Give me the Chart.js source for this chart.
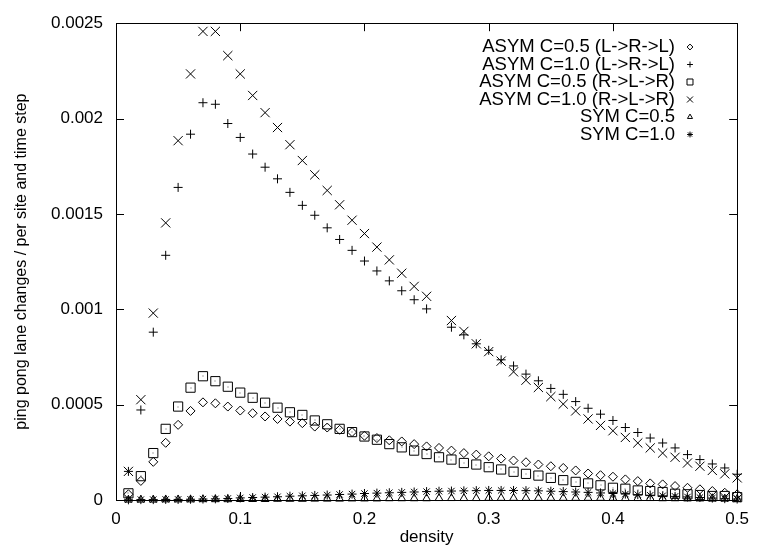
<!DOCTYPE html>
<html>
<head>
<meta charset="utf-8">
<script src="https://cdn.jsdelivr.net/npm/chart.js@4.4.0/dist/chart.umd.min.js"></script>
<style>
  body { margin: 0; background: #fff; }
  #wrap { width: 758px; height: 552px; }
</style>
</head>
<body>
<div id="wrap"><canvas id="grafico" width="758" height="552"></canvas></div>
<script>
// valores (densidade 0.01 .. 0.5)
const density = [0.01, 0.02, 0.03, 0.04, 0.05, 0.06, 0.07, 0.08, 0.09, 0.10,
  0.11, 0.12, 0.13, 0.14, 0.15, 0.16, 0.17, 0.18, 0.19, 0.20,
  0.21, 0.22, 0.23, 0.24, 0.25, 0.26, 0.27, 0.28, 0.29, 0.30,
  0.31, 0.32, 0.33, 0.34, 0.35, 0.36, 0.37, 0.38, 0.39, 0.40,
  0.41, 0.42, 0.43, 0.44, 0.45, 0.46, 0.47, 0.48, 0.49, 0.50];

const asym05LRL = [0.00003, 0.0001, 0.0002, 0.0003, 0.000394, 0.000467, 0.000512, 0.000507, 0.00049, 0.000469,
  0.000455, 0.000438, 0.000425, 0.000411, 0.000403, 0.000385, 0.00038, 0.000368, 0.000356, 0.000337,
  0.000325, 0.000313, 0.000307, 0.000293, 0.000281, 0.000273, 0.000259, 0.000246, 0.000238, 0.000229,
  0.000217, 0.000207, 0.000198, 0.000186, 0.000177, 0.000168, 0.000155, 0.000139, 0.00013, 0.000122,
  0.000108, 0.000099, 0.000087, 0.000082, 0.000073, 0.000064, 0.000056, 0.000047, 0.000038, 0.00003];

const asym10LRL = [0.00015, 0.000472, 0.00088, 0.001283, 0.001639, 0.001918, 0.002083, 0.002075, 0.001974, 0.001901,
  0.001814, 0.001745, 0.001684, 0.001613, 0.001545, 0.001493, 0.001427, 0.001366, 0.001309, 0.001253,
  0.001201, 0.001149, 0.001097, 0.00105, 0.001002, null, 0.000906, 0.000866, 0.000819, 0.000785,
  0.000735, 0.000703, 0.00066, 0.000625, 0.000585, 0.000554, 0.000516, 0.000481, 0.00045, 0.000417,
  0.00038, 0.000354, 0.000325, 0.000299, 0.000273, 0.000238, 0.000212, 0.000189, 0.000168, 0.000135];

const asym05RLR = [0.000035, 0.000125, 0.000246, 0.000373, 0.00049, 0.000589, 0.000649, 0.000623, 0.000594, 0.000563,
  0.000536, 0.00051, 0.000484, 0.00046, 0.000446, 0.000417, 0.000397, 0.000373, 0.000356, 0.000333,
  0.000316, 0.000293, 0.000276, 0.000259, 0.000241, 0.000224, 0.000212, 0.000194, 0.000186, 0.000172,
  0.00016, 0.000148, 0.000137, 0.000128, 0.000116, 0.000104, 0.000095, 0.000087, 0.000077, 0.000064,
  0.000059, 0.00005, 0.000047, 0.000042, 0.000033, 0.00003, 0.000026, 0.000021, 0.000021, 0.000015];

const asym10RLR = [0.00015, 0.000526, 0.00098, 0.001453, 0.001884, 0.002234, 0.002457, 0.002457, 0.00233, 0.002234,
  0.002121, 0.002031, 0.001953, 0.001863, 0.00178, 0.001705, 0.001623, 0.001548, 0.001467, 0.001397,
  0.001326, 0.001259, 0.001189, 0.00112, 0.001068, null, 0.000941, 0.000884, 0.000819, 0.000778,
  0.000728, 0.000672, 0.000628, 0.00059, 0.000542, 0.000503, 0.000467, 0.000425, 0.000391, 0.000363,
  0.000328, 0.000299, 0.000273, 0.000246, 0.000224, 0.000194, 0.000177, 0.000155, 0.000137, 0.000116];

const sym05 = [0.000001, 0.000001, 0.000001, 0.000002, 0.000002, 0.000002, 0.000003, 0.000003, 0.000003, 0.000004,
  0.000004, 0.000004, 0.000005, 0.000005, 0.000005, 0.000006, 0.000006, 0.000006, 0.000007, 0.000007,
  0.000007, 0.000008, 0.000008, 0.000008, 0.000008, 0.000009, 0.000009, 0.000009, 0.000009, 0.00001,
  0.00001, 0.00001, 0.00001, 0.00001, 0.00001, 0.00001, 0.00001, 0.00001, 0.00001, 0.00001,
  0.000009, 0.000009, 0.000009, 0.000008, 0.000008, 0.000007, 0.000007, 0.000006, 0.000006, 0.000005];

const sym10 = [0.000001, 0.000002, 0.000002, 0.000003, 0.000003, 0.000004, 0.000005, 0.000006, 0.000008, 0.000011,
  0.000013, 0.000015, 0.000017, 0.00002, 0.000022, 0.000024, 0.000026, 0.000029, 0.000031, 0.000034,
  0.000036, 0.000038, 0.00004, 0.000042, 0.000044, 0.000046, 0.000047, 0.000048, 0.000049, 0.00005,
  0.00005, 0.00005, 0.000049, 0.000048, 0.000046, 0.000044, 0.000042, 0.00004, 0.000037, 0.000034,
  0.000031, 0.000028, 0.000025, 0.000022, 0.000019, 0.000016, 0.000013, 0.00001, 0.000007, 0.000005];

const xTicks = [0, 0.1, 0.2, 0.3, 0.4, 0.5];
const xTickLabels = ["0", "0.1", "0.2", "0.3", "0.4", "0.5"];
const yTicks = [0, 0.0005, 0.001, 0.0015, 0.002, 0.0025];
const yTickLabels = ["0", "0.0005", "0.001", "0.0015", "0.002", "0.0025"];

const seriesNames = ["ASYM C=0.5 (L->R->L)", "ASYM C=1.0 (L->R->L)", "ASYM C=0.5 (R->L->R)",
  "ASYM C=1.0 (R->L->R)", "SYM C=0.5", "SYM C=1.0"];

Chart.defaults.font.family = "'Liberation Sans', Arial, sans-serif";
Chart.defaults.color = "#000";

function pontos(valores) {
  return density.map((d, i) => ({ x: d, y: valores[i] }));
}

function serie(nome, valores, estilo, raio) {
  return {
    label: nome,
    data: pontos(valores),
    showLine: false,
    pointStyle: estilo,
    pointRadius: raio,
    pointHoverRadius: raio,
    pointBorderWidth: 1,
    borderColor: "#000",
    backgroundColor: "rgba(0,0,0,0)",
    clip: false,
  };
}

// moldura, ticks pra dentro e legenda estilo gnuplot
const moldura = {
  id: "moldura",
  afterDatasetsDraw(chart) {
    const { ctx, chartArea: a, scales } = chart;
    ctx.save();

    // pontinho no meio dos quadrados (igual gnuplot)
    ctx.fillStyle = "#555";
    chart.getDatasetMeta(2).data.forEach((p) => {
      if (!p.skip) ctx.fillRect(Math.round(p.x) - 0.5, Math.round(p.y) - 0.5, 1, 1);
    });

    ctx.strokeStyle = "#000";
    ctx.lineWidth = 1;
    ctx.beginPath();
    ctx.rect(Math.round(a.left) + 0.5, Math.round(a.top) + 0.5,
      Math.round(a.right - a.left), Math.round(a.bottom - a.top));
    const t = 8;
    xTicks.forEach((v) => {
      const px = Math.round(scales.x.getPixelForValue(v)) + 0.5;
      ctx.moveTo(px, a.bottom); ctx.lineTo(px, a.bottom - t);
      ctx.moveTo(px, a.top); ctx.lineTo(px, a.top + t);
    });
    yTicks.forEach((v) => {
      const py = Math.round(scales.y.getPixelForValue(v)) + 0.5;
      ctx.moveTo(a.left, py); ctx.lineTo(a.left + t, py);
      ctx.moveTo(a.right, py); ctx.lineTo(a.right - t, py);
    });
    ctx.stroke();

    // legenda
    ctx.font = "18.5px 'Liberation Sans', Arial, sans-serif";
    ctx.textAlign = "right";
    ctx.textBaseline = "middle";
    chart.data.datasets.forEach((ds, i) => {
      const y = 47 + i * 17.5;
      ctx.fillStyle = "#000";
      ctx.fillText(ds.label, 675, y);
      ctx.fillStyle = "rgba(0,0,0,0)";
      Chart.helpers.drawPoint(ctx, {
        pointStyle: ds.pointStyle,
        radius: ds.pointRadius * 0.65,
        rotation: 0,
        borderWidth: 1,
      }, 690, y);
    });
    ctx.restore();
  },
};

const ctx = document.getElementById("grafico");

new Chart(ctx, {
  type: "scatter",
  data: {
    datasets: [
      serie(seriesNames[0], asym05LRL, "rectRot", 4.5),
      serie(seriesNames[1], asym10LRL, "cross", 4.5),
      serie(seriesNames[2], asym05RLR, "rect", 6.5),
      serie(seriesNames[3], asym10RLR, "crossRot", 6.5),
      serie(seriesNames[4], sym05, "triangle", 4.5),
      serie(seriesNames[5], sym10, "star", 4.5),
    ],
  },
  options: {
    responsive: false,
    animation: false,
    events: [],
    layout: { padding: { top: 18, right: 17, left: 0, bottom: 0 } },
    plugins: { legend: { display: false }, tooltip: { enabled: false } },
    scales: {
      x: {
        type: "linear",
        min: 0,
        max: 0.5,
        afterBuildTicks: (s) => { s.ticks = xTicks.map((v) => ({ value: v })); },
        afterFit: (s) => { s.height = 52; },
        grid: { display: false, drawTicks: false },
        border: { display: false },
        ticks: {
          padding: 9,
          font: { size: 17 },
          maxRotation: 0,
          autoSkip: false,
          callback: (v, i) => xTickLabels[i],
        },
        title: { display: true, text: "density", font: { size: 17 }, padding: { top: 0, bottom: 4 } },
      },
      y: {
        type: "linear",
        min: 0,
        max: 0.0025,
        afterBuildTicks: (s) => { s.ticks = yTicks.map((v) => ({ value: v })); },
        afterFit: (s) => { s.width = 116; },
        grid: { display: false, drawTicks: false },
        border: { display: false },
        ticks: {
          padding: 13,
          font: { size: 17 },
          autoSkip: false,
          callback: (v, i) => yTickLabels[i],
        },
        title: {
          display: true,
          text: "ping pong lane changes / per site and time step",
          font: { size: 16 },
          padding: { top: 12, bottom: 0 },
        },
      },
    },
  },
  plugins: [moldura],
});
</script>
</body>
</html>
